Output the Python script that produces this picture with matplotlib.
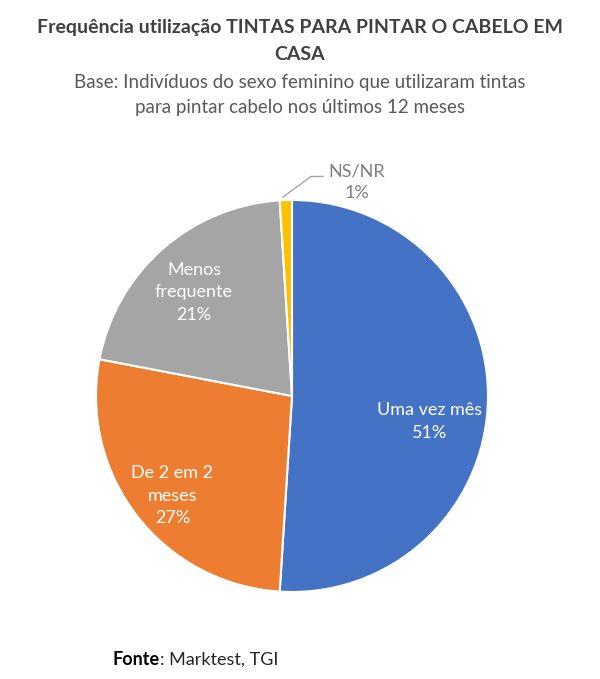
import numpy as np
import matplotlib.pyplot as plt

plt.rcParams['font.family'] = ['Lato', 'DejaVu Sans']

# dados
categorias = ['Uma vez mês', 'De 2 em 2\nmeses', 'Menos\nfrequente', 'NS/NR']
valores = [51, 27, 21, 1]
cores = ['#4472C4', '#ED7D31', '#A5A5A5', '#FFC000']

fig = plt.figure(figsize=(6, 6.79), dpi=100)

fig.text(0.5, 0.959, 'Frequência utilização TINTAS PARA PINTAR O CABELO EM', ha='center',
         va='center', fontsize=14, fontweight='bold', color='#404040')
fig.text(0.5, 0.919, 'CASA', ha='center', va='center', fontsize=14, fontweight='bold', color='#404040')
fig.text(0.5, 0.879, 'Base: Indivíduos do sexo feminino que utilizaram tintas', ha='center',
         va='center', fontsize=13.5, color='#595959')
fig.text(0.5, 0.842, 'para pintar cabelo nos últimos 12 meses', ha='center',
         va='center', fontsize=13.5, color='#595959')

# pie centrado em (292, 396) px, raio ~196 px
ax = fig.add_axes([96 / 600, 1 - 592 / 679, 392 / 600, 392 / 679])
fatias, _ = ax.pie(valores, colors=cores, startangle=90, counterclock=False,
                   wedgeprops=dict(edgecolor='white', linewidth=1.5))
ax.set_xlim(-1, 1)
ax.set_ylim(-1, 1)
ax.set_aspect('equal')

# rótulos dentro das fatias
pos = [(0.70, -0.13), (-0.61, -0.51), (-0.50, 0.53)]
for i in range(3):
    ax.text(pos[i][0], pos[i][1], f'{categorias[i]}\n{valores[i]}%', ha='center', va='center',
            color='white', fontsize=13, linespacing=1.5)

# NS/NR com linha de chamada
ax.plot([-0.046, 0.097, 0.158], [1.015, 1.12, 1.12], color='#A5A5A5', lw=1, clip_on=False)
ax.text(0.33, 1.09, f'{categorias[3]}\n{valores[3]}%', ha='center', va='center',
        color='#7F7F7F', fontsize=13, linespacing=1.4)

# fonte
t1 = fig.text(113 / 600, 0.029, 'Fonte', ha='left', va='center', fontsize=13,
              fontweight='bold', color='black')
ax.annotate(': Marktest, TGI', xy=(1, 0), xycoords=t1, ha='left', va='bottom',
            fontsize=13, color='#262626', annotation_clip=False)

fig.savefig('out.png', dpi=100)
